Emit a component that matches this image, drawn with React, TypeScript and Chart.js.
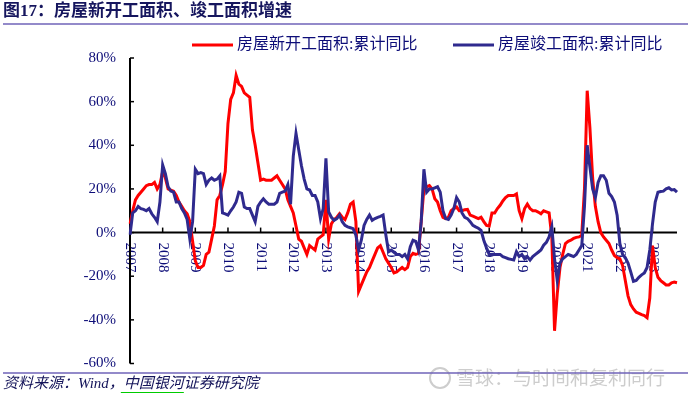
import React, { useEffect, useRef } from 'react';
import { Chart, registerables } from 'chart.js';

Chart.register(...registerables);

const START_YEAR = 2007;
const MONTH_COUNT = 202; // 2007-01 .. 2023-10
const MONTHS: string[] = Array.from({ length: MONTH_COUNT }, (_, i) =>
  `${START_YEAR + Math.floor(i / 12)}-${String((i % 12) + 1).padStart(2, '0')}`
);
const YEAR_LABELS = ['2007', '2008', '2009', '2010', '2011', '2012', '2013', '2014', '2015', '2016', '2017', '2018', '2019', '2020', '2021', '2022', '2023'];
const Y_TICKS = [80, 60, 40, 20, 0, -20, -40, -60];

const TITLE = '图17：房屋新开工面积、竣工面积增速';
const SERIES_NAMES = ['房屋新开工面积:累计同比', '房屋竣工面积:累计同比'];
const SOURCE_PREFIX = '资料来源：Wind，';
const SOURCE_LINK = '中国银河';
const SOURCE_REST = '证券研究院';
const WATERMARK = '雪球：与时间和复利同行';

// 房屋新开工面积:累计同比 (%)
const NEW_STARTS = [
  4, 10, 15, 17, 18.5, 20, 21.5, 22, 22, 23, 20, 22,
  28, 25, 20, 19.5, 19, 17, 14, 12, 10, 8.6, 5, -4,
  -13, -16, -16, -15, -10, -9, -3, 3, 15, 17, 22, 28,
  50, 61, 64, 72, 68, 67, 64, 63, 62, 47, 40, 32,
  24, 24.5, 24, 24, 24, 25, 26, 24, 22, 20, 15, 12,
  9, 3, -3, -4, -7, -10, -6, -7, -8, -3, -2, -1,
  15, -3, 4, 6, 7, 8.6, 7, 6, 9, 13, 14, 5,
  -27, -24, -21, -18, -16, -13, -10, -7, -6, -9, -12, -14,
  -16, -18.5, -18, -17, -16, -17, -16, -11, -9.5, -10, -9.5, 5,
  20, 21, 21.5, 20, 15.5, 14, 10, 7, 6.4, 7, 10, 11,
  11.7, 10, 10, 10.5, 10.6, 8, 7.5, 7, 6.4, 7, 5, 3.3,
  3, 9, 9, 11, 12.5, 14.5, 16, 17, 17, 17, 17.7, 10,
  6.4, 11, 13, 11, 10, 10, 9.4, 8.6, 10, 9.5, 9, -2,
  -45, -28, -16, -10, -5, -4, -3.5, -2.7, -2.2, -2, -1.2, 20,
  65, 48, 25, 12, 5, 0, -2, -3.5, -5, -8, -10.5, -11.5,
  -12, -15, -22, -29, -33, -35, -36.5, -37, -37.6, -38, -39, -30,
  -6, -16, -20.5, -22, -23, -24, -24, -23, -22.7, -23,
];

// 房屋竣工面积:累计同比 (%)
const COMPLETIONS = [
  -1, 9, 10, 12, 11, 10.6, 10, 11, 8.6, 7, 5, 14,
  31, 27, 21, 19, 18.5, 14, 14, 11, 9, 6, -3, 5,
  29, 27, 27.5, 27, 22, 24, 25, 24, 24.5, 26, 9, 8.6,
  8, 10, 11.7, 14, 18.5, 18, 11.7, 11, 11, 8, 5, 12,
  14, 15.5, 14, 13, 13, 13, 14, 18, 18.5, 19, 22, 13,
  35, 45.5, 38, 30.6, 24.5, 20, 19.5, 17, 17, 14, 6.4, 11,
  34, 9.4, 7, 5.6, 6.4, 8, 5, 3.3, 2.6, 2.2, 1.8, -1.2,
  -8, -3.5, 3.3, 6, 8, 5.6, 6.4, 7, 7.4, 8, -1, -8.8,
  -8, -9, -10, -10, -11, -10, -12, -6.5, -3.5, -4, -8, 5,
  29, 18.5, 20, 20, 20.5, 21, 18.5, 10, 6.4, 6, 8, 11,
  16, 14, 9, 7, 6.4, 5, 3.3, 2.6, 2, 1, -3.5, -7,
  -10, -10, -10, -10, -10, -11, -11.5, -12, -12.3, -12.6, -8.8, -11,
  -10, -12, -11, -12.6, -11, -10, -9, -8, -5.8, -4.5, -2, 2.6,
  -12, -22, -14, -12, -11, -10, -10.5, -11, -10, -8, -6, 12,
  40, 30, 20, 16, 23, 26, 26, 24, 18, 16.5, 14, 8,
  -5, -10, -11.5, -14, -18, -22.4, -22, -20.5, -19.4, -18.5, -16, -8,
  4, 14, 18.5, 18.8, 19, 20, 20.5, 19.5, 19.7, 18.5,
];

const RED = '#ff0000';
const BLUE = '#2f2a8e';
const NAVY = '#0d0d78';
const RULE = '#6f63b8';
const SERIF = '"Liberation Serif", "Noto Sans CJK SC", serif';

const decorPlugin = {
  id: 'decor',
  beforeDatasetsDraw(chart: any) {
    const { ctx, chartArea, scales } = chart;
    const xs = scales.x;
    const ys = scales.y;
    const y0 = ys.getPixelForValue(0);
    ctx.save();

    // year labels (rotated clockwise)
    ctx.fillStyle = NAVY;
    ctx.font = `15px ${SERIF}`;
    ctx.textAlign = 'left';
    ctx.textBaseline = 'middle';
    YEAR_LABELS.forEach((lbl) => {
      const idx = MONTHS.indexOf(`${lbl}-01`);
      if (idx < 0) return;
      const px = xs.getPixelForValue(idx);
      ctx.save();
      ctx.translate(px, y0 + 10);
      ctx.rotate(Math.PI / 2);
      ctx.fillText(lbl, 0, 0);
      ctx.restore();
    });

    // y labels
    ctx.textAlign = 'right';
    ctx.textBaseline = 'middle';
    Y_TICKS.forEach((v) => {
      ctx.fillText(`${v}%`, chartArea.left - 14, ys.getPixelForValue(v));
    });

    // axes
    ctx.strokeStyle = '#000000';
    ctx.lineWidth = 2;
    ctx.beginPath();
    ctx.moveTo(chartArea.left, chartArea.top);
    ctx.lineTo(chartArea.left, chartArea.bottom);
    ctx.stroke();
    ctx.beginPath();
    ctx.moveTo(chartArea.left, y0);
    ctx.lineTo(chartArea.right, y0);
    ctx.stroke();

    // inward tick marks
    ctx.lineWidth = 1.5;
    Y_TICKS.forEach((v) => {
      const py = ys.getPixelForValue(v);
      ctx.beginPath();
      ctx.moveTo(chartArea.left, py);
      ctx.lineTo(chartArea.left + 4, py);
      ctx.stroke();
    });
    YEAR_LABELS.forEach((lbl) => {
      const idx = MONTHS.indexOf(`${lbl}-01`);
      if (idx < 0) return;
      const px = xs.getPixelForValue(idx);
      ctx.beginPath();
      ctx.moveTo(px, y0);
      ctx.lineTo(px, y0 - 5);
      ctx.stroke();
    });
    ctx.restore();
  },
  afterDraw(chart: any) {
    const { ctx } = chart;
    const W = chart.width;
    ctx.save();

    // title
    ctx.fillStyle = '#16165e';
    ctx.font = `bold 17px ${SERIF}`;
    ctx.textAlign = 'left';
    ctx.textBaseline = 'middle';
    ctx.fillText(TITLE, 3, 12);
    ctx.strokeStyle = RULE;
    ctx.lineWidth = 1.5;
    ctx.beginPath();
    ctx.moveTo(3, 24);
    ctx.lineTo(W, 24);
    ctx.stroke();

    // legend
    const legend = [
      { x: 192, color: RED, name: SERIES_NAMES[0] },
      { x: 453, color: BLUE, name: SERIES_NAMES[1] },
    ];
    ctx.font = `16px ${SERIF}`;
    legend.forEach((it) => {
      ctx.strokeStyle = it.color;
      ctx.lineWidth = 3;
      ctx.beginPath();
      ctx.moveTo(it.x, 45);
      ctx.lineTo(it.x + 41, 45);
      ctx.stroke();
      ctx.fillStyle = NAVY;
      ctx.fillText(it.name, it.x + 45, 45);
    });

    // watermark
    ctx.fillStyle = '#cdcdcd';
    ctx.strokeStyle = '#cdcdcd';
    ctx.lineWidth = 2;
    ctx.beginPath();
    ctx.arc(440, 378, 10, 0, Math.PI * 2);
    ctx.stroke();
    ctx.font = '19px "Noto Sans CJK SC", sans-serif';
    ctx.fillText(WATERMARK, 456, 378);

    // bottom rule and source
    ctx.strokeStyle = RULE;
    ctx.lineWidth = 1.5;
    ctx.beginPath();
    ctx.moveTo(3, 373);
    ctx.lineTo(W, 373);
    ctx.stroke();

    ctx.fillStyle = '#14145a';
    ctx.font = `italic 15px ${SERIF}`;
    ctx.fillText(SOURCE_PREFIX, 3, 384);
    const w1 = ctx.measureText(SOURCE_PREFIX).width;
    ctx.fillText(SOURCE_LINK, 3 + w1, 384);
    const w2 = ctx.measureText(SOURCE_LINK).width;
    ctx.fillText(SOURCE_REST, 3 + w1 + w2, 384);
    ctx.strokeStyle = '#00cc00';
    ctx.lineWidth = 1;
    ctx.beginPath();
    ctx.moveTo(3 + w1 - 3, 392.5);
    ctx.lineTo(3 + w1 + w2, 392.5);
    ctx.stroke();

    ctx.restore();
  },
};

export default function App() {
  const canvasRef = useRef<HTMLCanvasElement | null>(null);

  useEffect(() => {
    document.body.style.margin = '0';
    const canvas = canvasRef.current;
    if (!canvas) return;
    const chart = new Chart(canvas, {
      type: 'line',
      data: {
        labels: MONTHS,
        datasets: [
          {
            label: SERIES_NAMES[0],
            data: NEW_STARTS,
            borderColor: RED,
            backgroundColor: RED,
            borderWidth: 3,
            pointRadius: 0,
            tension: 0,
            order: 2,
          },
          {
            label: SERIES_NAMES[1],
            data: COMPLETIONS,
            borderColor: BLUE,
            backgroundColor: BLUE,
            borderWidth: 3,
            pointRadius: 0,
            tension: 0,
            order: 1,
          },
        ],
      },
      options: {
        responsive: false,
        devicePixelRatio: 1,
        animation: false,
        layout: { padding: { left: 130, right: 11, top: 58, bottom: 32.5 } },
        plugins: {
          legend: { display: false },
          title: { display: false },
          tooltip: { enabled: false },
        },
        scales: {
          x: { type: 'category', display: false, offset: false },
          y: { type: 'linear', display: false, min: -60, max: 80 },
        },
      },
      plugins: [decorPlugin],
    });
    return () => chart.destroy();
  }, []);

  return (
    <div style={{ width: 688, height: 396, background: '#ffffff' }}>
      <canvas ref={canvasRef} width={688} height={396} style={{ display: 'block' }} />
    </div>
  );
}
